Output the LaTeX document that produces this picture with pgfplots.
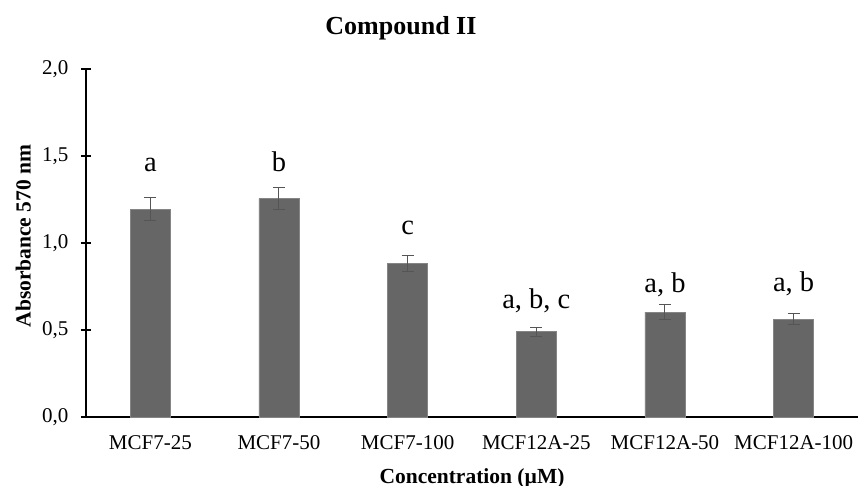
\documentclass[border=0pt]{standalone}
\usepackage{fontspec}
\setmainfont{Liberation Serif}
\usepackage{pgfplots}
\pgfplotsset{compat=1.18}
\definecolor{barfill}{RGB}{102,102,102}
\definecolor{errcol}{RGB}{85,85,85}
\begin{document}
\begin{tikzpicture}
\useasboundingbox (-86pt,-69pt) rectangle (773pt,417pt);
\begin{axis}[
  at={(0pt,0pt)}, anchor=south west,
  scale only axis, width=772pt, height=348pt,
  xmin=-0.5, xmax=5.5, ymin=0, ymax=2,
  axis x line*=bottom, axis y line*=left,
  axis line style={line width=1.2pt, black},
  xtick={0,1,2,3,4,5},
  xticklabels={MCF7-25,MCF7-50,MCF7-100,MCF12A-25,MCF12A-50,MCF12A-100},
  ytick={0,0.5,1,1.5,2},
  yticklabel style={xshift=-9pt, /pgf/number format/.cd, fixed, fixed zerofill, precision=1, use comma, assume math mode=true},
  tick label style={font=\fontsize{21}{25}\selectfont},
  major tick length=10pt, tick align=center,
  ytick style={line width=1.2pt, black},
  xtick style={draw=none},
  xticklabel style={anchor=base, yshift=-28pt},
  ylabel={Absorbance 570 nm},
  xlabel={Concentration (µM)},
  label style={font=\fontsize{21.5}{25}\selectfont\bfseries},
  ylabel style={at={(axis description cs:-0.0814,0.52)}, anchor=center},
  xlabel style={at={(axis description cs:0.5,-0.1897)}, anchor=base},
  title={Compound II},
  title style={font=\fontsize{26}{30}\selectfont\bfseries, at={(axis description cs:0.408,1.082)}, anchor=base},
  clip=false,
]
\addplot[ybar, bar width=40pt, fill=barfill, draw=barfill!80!white, line width=0.6pt,
  error bars/.cd, y dir=both, y explicit,
  error bar style={errcol, line width=1pt},
  error mark options={rotate=90, mark size=6pt, errcol, line width=1pt}]
  coordinates {
  (0,1.195) +- (0,0.065)
  (1,1.255) +- (0,0.065)
  (2,0.883) +- (0,0.047)
  (3,0.490) +- (0,0.025)
  (4,0.603) +- (0,0.041)
  (5,0.563) +- (0,0.029)
  };
\begin{scope}[every node/.style={anchor=base, font=\fontsize{28.5}{32}\selectfont}]
\node at (axis cs:0,1.41) {a};
\node at (axis cs:1,1.41) {b};
\node at (axis cs:2,1.046) {c};
\node at (axis cs:3,0.626) {a, b, c};
\node at (axis cs:4,0.713) {a, b};
\node at (axis cs:5,0.72) {a, b};
\end{scope}
\end{axis}
\end{tikzpicture}
\end{document}
